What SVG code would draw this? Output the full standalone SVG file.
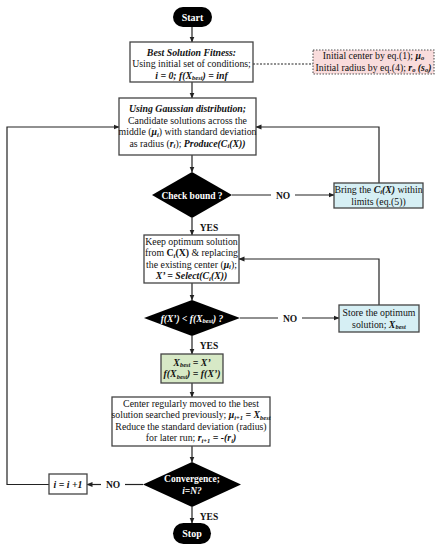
<svg xmlns="http://www.w3.org/2000/svg" width="436" height="550" viewBox="0 0 436 550">
<defs>
<marker id="ah" markerWidth="6" markerHeight="6" refX="5.5" refY="3" orient="auto" markerUnits="userSpaceOnUse">
<path d="M0,0.5 L6,3 L0,5.5 Z" fill="#222"/>
</marker>
<style>
text{font-family:"Liberation Serif","Times New Roman",serif;font-size:9.8px;fill:#111;text-anchor:middle}
.b{font-weight:bold}
.bi{font-weight:bold;font-style:italic}
.w{fill:#fff}
.lbl{font-weight:bold;font-size:9.5px}
.box{fill:#fff;stroke:#444;stroke-width:1.3}
.cyan{fill:#d6eff4;stroke:#444;stroke-width:1.3}
.green{fill:#d7e9c6;stroke:#444;stroke-width:1.3}
.pink{fill:#f9dcdc;stroke:#555;stroke-width:1.1;stroke-dasharray:1.5 1.5}
.term{fill:#000}
.con{fill:none;stroke:#222;stroke-width:1.2}
.arr{marker-end:url(#ah)}
.dash{stroke-dasharray:2 1.5}
.s{font-size:6.5px}
</style>
</defs>
<rect width="436" height="550" fill="#fff"/>

<g id="connectors">
<line class="con arr" x1="192" y1="27" x2="192" y2="42"/>
<line class="con arr" x1="192" y1="82" x2="192" y2="98"/>
<line class="con dash" x1="253" y1="64" x2="313" y2="64"/>
<line class="con arr" x1="192" y1="155" x2="192" y2="172"/>
<line class="con" x1="232" y1="195" x2="271" y2="195"/>
<line class="con arr" x1="295" y1="195" x2="334" y2="195"/>
<polyline class="con arr" points="379,183 379,127 256,127"/>
<line class="con arr" x1="192" y1="218" x2="192" y2="235"/>
<line class="con arr" x1="192" y1="283" x2="192" y2="300"/>
<line class="con" x1="240" y1="318" x2="278" y2="318"/>
<line class="con arr" x1="302" y1="318" x2="339" y2="318"/>
<polyline class="con arr" points="379,305 379,259 239,259"/>
<line class="con arr" x1="192" y1="336" x2="192" y2="354"/>
<line class="con arr" x1="192" y1="383" x2="192" y2="397"/>
<line class="con arr" x1="192" y1="446" x2="192" y2="462"/>
<line class="con" x1="143" y1="484.5" x2="125" y2="484.5"/>
<line class="con arr" x1="101" y1="484.5" x2="87" y2="484.5"/>
<polyline class="con arr" points="49,484.5 7,484.5 7,127 119,127"/>
<line class="con arr" x1="192" y1="507" x2="192" y2="523"/>
<text class="lbl" x="283" y="198.5">NO</text>
<text class="lbl" x="290" y="321.5">NO</text>
<text class="lbl" x="113" y="488">NO</text>
<text class="lbl" x="209" y="230.5">YES</text>
<text class="lbl" x="209" y="348.5">YES</text>
<text class="lbl" x="209" y="519.5">YES</text>
</g>

<g id="start">
<rect class="term" x="173" y="7" width="39" height="20" rx="10"/>
<text class="b w" x="192.5" y="20.5" style="font-size:10px">Start</text>
</g>

<g id="best-fitness">
<rect class="box" x="130" y="42" width="123" height="40"/>
<text class="bi" x="191.5" y="55.5">Best Solution Fitness:</text>
<text x="191.5" y="67">Using initial set of conditions;</text>
<text class="bi" x="191.5" y="78.5">i = 0; f(X<tspan class="s" dy="1.5">best</tspan><tspan dy="-1.5">) = inf</tspan></text>
</g>

<g id="initial">
<rect class="pink" x="313" y="50" width="121" height="24"/>
<text x="373.5" y="58.5">Initial center by eq.(1); <tspan class="bi">μ<tspan class="s" dy="1.5">o</tspan></tspan></text>
<text x="373.5" y="70.5">Initial radius by eq.(4); <tspan class="bi">r<tspan class="s" dy="1.5">o</tspan><tspan dy="-1.5"> (s</tspan><tspan class="s" dy="1.5">o</tspan><tspan dy="-1.5">)</tspan></tspan></text>
</g>

<g id="gaussian">
<rect class="box" x="119" y="98" width="137" height="57"/>
<text class="bi" x="187.5" y="112">Using Gaussian distribution;</text>
<text x="187.5" y="123.5">Candidate solutions across the</text>
<text x="187.5" y="135">middle (<tspan class="bi">μ<tspan class="s" dy="1.5">i</tspan></tspan><tspan dy="-1.5">) with standard deviation</tspan></text>
<text x="187.5" y="146.5">as radius (<tspan class="bi">r<tspan class="s" dy="1.5">i</tspan></tspan><tspan dy="-1.5">); </tspan><tspan class="bi">Produce(C<tspan class="s" dy="1.5">i</tspan><tspan dy="-1.5">(X))</tspan></tspan></text>
</g>

<g id="check-bound">
<polygon class="term" points="192,172 232,195 192,218 152,195"/>
<text class="b w" x="192" y="198.5" style="font-size:9.5px">Check bound ?</text>
</g>

<g id="bring-limits">
<rect class="cyan" x="334" y="183" width="89" height="25"/>
<text x="378.5" y="192.5">Bring the <tspan class="bi">C<tspan class="s" dy="1.5">i</tspan><tspan dy="-1.5">(X)</tspan></tspan> within</text>
<text x="378.5" y="204.5">limits (eq.(5))</text>
</g>

<g id="keep-optimum">
<rect class="box" x="144" y="235" width="95" height="48"/>
<text x="191.5" y="244.5">Keep optimum solution</text>
<text x="191.5" y="256">from <tspan class="b">C<tspan class="s" dy="1.5" style="font-style:italic">i</tspan><tspan dy="-1.5">(X)</tspan></tspan> &amp; replacing</text>
<text x="191.5" y="267.5">the existing center (<tspan class="bi">μ<tspan class="s" dy="1.5">i</tspan></tspan><tspan dy="-1.5">);</tspan></text>
<text class="bi" x="191.5" y="279">X’ = Select(C<tspan class="s" dy="1.5">i</tspan><tspan dy="-1.5">(X))</tspan></text>
</g>

<g id="compare">
<polygon class="term" points="192,300 240,318 192,336 144,318"/>
<text class="bi w" x="192" y="321.5" style="font-size:9.5px">f(X’) <tspan style="font-style:normal">&lt;</tspan> f(X<tspan class="s" dy="1.5">best</tspan><tspan dy="-1.5">) ?</tspan></text>
</g>

<g id="store-optimum">
<rect class="cyan" x="339" y="305" width="80" height="27"/>
<text x="379" y="316">Store the optimum</text>
<text x="379" y="327.5">solution; <tspan class="bi">X<tspan class="s" dy="1.5">best</tspan></tspan></text>
</g>

<g id="update-best">
<rect class="green" x="161" y="354" width="62" height="29"/>
<text class="bi" x="192" y="365.5">X<tspan class="s" dy="1.5">best</tspan><tspan dy="-1.5"> = X’</tspan></text>
<text class="bi" x="192" y="377">f(X<tspan class="s" dy="1.5">best</tspan><tspan dy="-1.5">) = f(X’)</tspan></text>
</g>

<g id="move-center">
<rect class="box" x="112" y="397" width="158" height="49"/>
<text x="191" y="406.5">Center regularly moved to the best</text>
<text x="191" y="418">solution searched previously; <tspan class="bi">μ<tspan class="s" dy="1.5">i+1</tspan><tspan dy="-1.5"> = X</tspan><tspan class="s" dy="1.5">best</tspan></tspan></text>
<text x="191" y="429.5">Reduce the standard deviation (radius)</text>
<text x="191" y="441">for later run; <tspan class="bi">r<tspan class="s" dy="1.5">i+1</tspan><tspan dy="-1.5"> = -(r</tspan><tspan class="s" dy="1.5">i</tspan><tspan dy="-1.5">)</tspan></tspan></text>
</g>

<g id="convergence">
<polygon class="term" points="192,462 241,484.5 192,507 143,484.5"/>
<text class="b w" x="192" y="482" style="font-size:9.5px">Convergence;</text>
<text class="bi w" x="192" y="493.5" style="font-size:9.5px">i=N?</text>
</g>

<g id="increment">
<rect class="box" x="49" y="474" width="38" height="20"/>
<text class="bi" x="68" y="487.5">i = i +1</text>
</g>

<g id="stop">
<rect class="term" x="173" y="523" width="38" height="21" rx="10.5"/>
<text class="b w" x="192" y="537" style="font-size:10px">Stop</text>
</g>
</svg>
